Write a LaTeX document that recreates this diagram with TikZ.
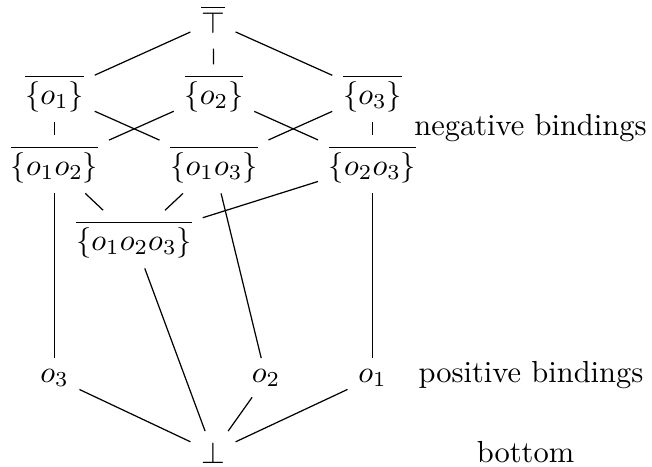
\documentclass[tikz,border=0pt]{standalone}
\begin{document}
\begin{tikzpicture}[x=0.328pt,y=-0.328pt,
  lat/.style={anchor=base,inner sep=3.33pt},
  lbl/.style={anchor=base,inner sep=0pt},
  edge/.style={line width=0.4pt}]
\useasboundingbox (0,0) rectangle (652,466);
\node[lat,text depth=1.6pt] (top) at (213,33) {$\overline{\top}$};
\node[lat] (s1) at (54.5,104) {$\overline{\{o_1\}}$};
\node[lat] (s2) at (214,104) {$\overline{\{o_2\}}$};
\node[lat] (s3) at (372.5,104) {$\overline{\{o_3\}}$};
\node[lat] (s12) at (54.5,175) {$\overline{\{o_1o_2\}}$};
\node[lat] (s13) at (214,175) {$\overline{\{o_1o_3\}}$};
\node[lat] (s23) at (372.5,175) {$\overline{\{o_2o_3\}}$};
\node[lat] (s123) at (134,250) {$\overline{\{o_1o_2o_3\}}$};
\node[lat] (p3) at (54.5,382) {$o_3$};
\node[lat] (p2) at (266,382) {$o_2$};
\node[lat] (p1) at (372.5,382) {$o_1$};
\node[lat] (bot) at (213,463) {$\bot$};
\node[lbl] (neg) at (530.5,135) {negative bindings};
\node[lbl] (pos) at (531,382) {positive bindings};
\node[lbl] (btm) at (525.5,462) {bottom};
\draw[edge] (top) -- (s1);
\draw[edge] (top) -- (s2);
\draw[edge] (top) -- (s3);
\draw[edge] (s1) -- (s12);
\draw[edge] (s1) -- (s13);
\draw[edge] (s2) -- (s12);
\draw[edge] (s2) -- (s23);
\draw[edge] (s3) -- (s13);
\draw[edge] (s3) -- (s23);
\draw[edge] (s12) -- (s123);
\draw[edge] (s13) -- (s123);
\draw[edge] (s23) -- (s123);
\draw[edge] (s12) -- (p3);
\draw[edge] (s13) -- (p2);
\draw[edge] (s23) -- (p1);
\draw[edge] (s123) -- (bot);
\draw[edge] (p3) -- (bot);
\draw[edge] (p2) -- (bot);
\draw[edge] (p1) -- (bot);
\end{tikzpicture}
\end{document}
